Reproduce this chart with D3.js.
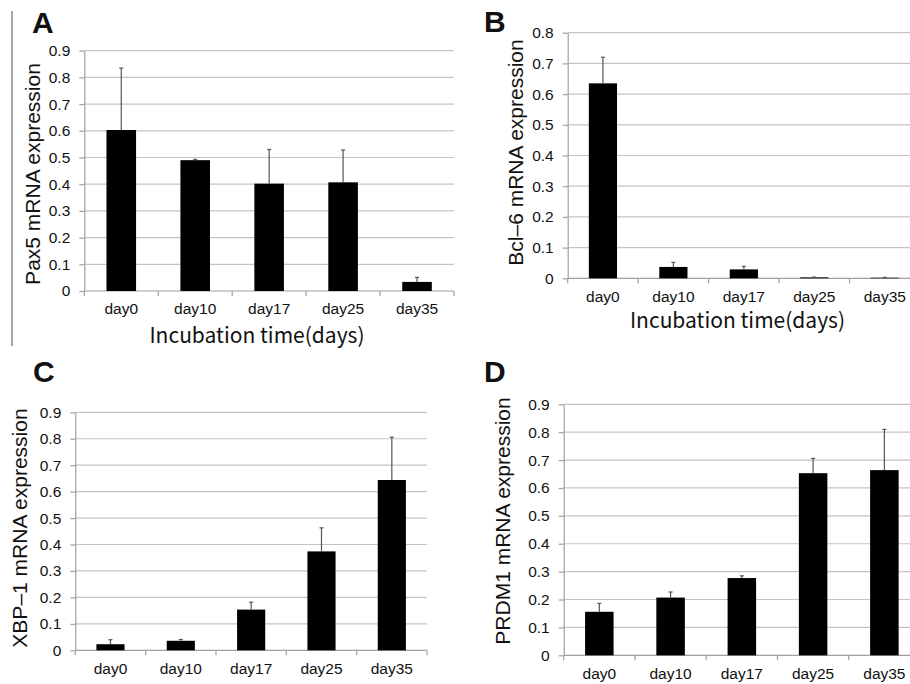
<!DOCTYPE html>
<html>
<head>
  <meta charset="utf-8">
  <title>mRNA expression</title>
  <script src="https://d3js.org/d3.v7.min.js"></script>
  <style>
    body { margin: 0; background: #fff; }
    text { font-family: "Liberation Sans", Arial, sans-serif; fill: #111; }
    .tit { font-family: "Noto Sans CJK JP", "Liberation Sans", sans-serif; }
  </style>
</head>
<body>
<div id="vis"></div>
<script>
// valores
var days = ["day0", "day10", "day17", "day25", "day35"];

var pax5    = [0.603, 0.490, 0.402, 0.407, 0.034];
var pax5Err = [0.232, 0.003, 0.128, 0.121, 0.017];

var bcl6    = [0.635, 0.037, 0.029, 0.003, 0.002];
var bcl6Err = [0.085, 0.015, 0.010, 0.001, 0.001];

var xbp1    = [0.023, 0.036, 0.154, 0.374, 0.644];
var xbp1Err = [0.017, 0.005, 0.028, 0.089, 0.162];

var prdm1    = [0.156, 0.207, 0.277, 0.653, 0.664];
var prdm1Err = [0.030, 0.020, 0.008, 0.053, 0.146];

var ticks09 = [0, 0.1, 0.2, 0.3, 0.4, 0.5, 0.6, 0.7, 0.8, 0.9];
var ticks08 = [0, 0.1, 0.2, 0.3, 0.4, 0.5, 0.6, 0.7, 0.8];

var svg = d3.select("#vis").append("svg")
  .attr("width", 910)
  .attr("height", 684);

// linea vertical a la izquierda del panel A
svg.append("line")
  .attr("x1", 12).attr("x2", 12)
  .attr("y1", 11).attr("y2", 346)
  .attr("stroke", "#8a8a8a").attr("stroke-width", 1.5);

var panels = [
  {letter: "A", lx: 32, ly: 33, vals: pax5, err: pax5Err, ticks: ticks09,
   x0: 84.3, x1: 454, top: 50.7, bot: 291, ylab: "Pax5 mRNA expression", yx: 40, yc: 174,
   pad: 12.3, xtit: true, tx: 257, ty: 343},
  {letter: "B", lx: 484, ly: 32, vals: bcl6, err: bcl6Err, ticks: ticks08,
   x0: 567.7, x1: 920, top: 32.7, bot: 278.3, ylab: "Bcl\u20136 mRNA expression", yx: 523, yc: 152.5,
   pad: 13, xtit: true, tx: 737.5, ty: 328},
  {letter: "C", lx: 33, ly: 382, vals: xbp1, err: xbp1Err, ticks: ticks09,
   x0: 75.3, x1: 427, top: 412.3, bot: 650.3, ylab: "XBP\u20131 mRNA expression", yx: 26.7, yc: 528,
   pad: 13, xtit: false},
  {letter: "D", lx: 484, ly: 382, vals: prdm1, err: prdm1Err, ticks: ticks09,
   x0: 563.7, x1: 920, top: 404.3, bot: 655.3, ylab: "PRDM1 mRNA expression", yx: 510, yc: 521,
   pad: 13, xtit: false}
];

panels.forEach(function(p) {
  var g = svg.append("g");
  var maxv = p.ticks[p.ticks.length - 1];

  var x = d3.scaleBand().domain(days).range([p.x0, p.x1]).padding(0);
  var y = d3.scaleLinear().domain([0, maxv]).range([p.bot, p.top]);
  var bw = x.bandwidth() * 0.4;

  // rejilla
  g.selectAll(".grid").data(p.ticks.slice(1)).enter().append("line")
    .attr("x1", p.x0).attr("x2", p.x1)
    .attr("y1", function(d) { return y(d); })
    .attr("y2", function(d) { return y(d); })
    .attr("stroke", "#c4c4c4").attr("stroke-width", 1.2);

  // eje y
  var ay = g.append("g")
    .attr("transform", "translate(" + p.x0 + ",0)")
    .call(d3.axisLeft(y).tickValues(p.ticks).tickSize(5).tickSizeOuter(0).tickPadding(9)
      .tickFormat(function(d) { return d === 0 ? "0" : d3.format(".1f")(d); }));
  ay.select(".domain").attr("stroke", "#a0a0a0").attr("stroke-width", 1.2);
  ay.selectAll(".tick line").attr("stroke", "#a0a0a0").attr("stroke-width", 1.2);
  ay.selectAll(".tick text").style("font-size", "15.5px").style("font-family", "Liberation Sans").attr("fill", "#111");

  // eje x
  var ax = g.append("g")
    .attr("transform", "translate(0," + p.bot + ")")
    .call(d3.axisBottom(x).tickSize(0).tickPadding(p.pad));
  ax.select(".domain").remove();
  ax.selectAll(".tick text").style("font-size", "15.5px").style("font-family", "Liberation Sans").attr("fill", "#111");

  g.append("line")
    .attr("x1", p.x0).attr("x2", p.x1)
    .attr("y1", p.bot).attr("y2", p.bot)
    .attr("stroke", "#a0a0a0").attr("stroke-width", 1.2);

  var bounds = days.map(function(d) { return x(d); }).concat([p.x1]);
  g.selectAll(".xt").data(bounds).enter().append("line")
    .attr("x1", function(d) { return d; }).attr("x2", function(d) { return d; })
    .attr("y1", p.bot).attr("y2", p.bot + 5)
    .attr("stroke", "#a0a0a0").attr("stroke-width", 1.2);

  // barras
  g.selectAll(".bar").data(p.vals).enter().append("rect")
    .attr("x", function(d, i) { return x(days[i]) + x.bandwidth() / 2 - bw / 2; })
    .attr("y", function(d) { return y(d); })
    .attr("width", bw)
    .attr("height", function(d) { return p.bot - y(d); })
    .attr("fill", "#000");

  // barras de error (solo hacia arriba)
  g.selectAll(".err").data(p.vals).enter().append("line")
    .attr("x1", function(d, i) { return x(days[i]) + x.bandwidth() / 2; })
    .attr("x2", function(d, i) { return x(days[i]) + x.bandwidth() / 2; })
    .attr("y1", function(d) { return y(d); })
    .attr("y2", function(d, i) { return y(d + p.err[i]); })
    .attr("stroke", "#555").attr("stroke-width", 1.2);

  g.selectAll(".cap").data(p.vals).enter().append("line")
    .attr("x1", function(d, i) { return x(days[i]) + x.bandwidth() / 2 - 2; })
    .attr("x2", function(d, i) { return x(days[i]) + x.bandwidth() / 2 + 2; })
    .attr("y1", function(d, i) { return y(d + p.err[i]); })
    .attr("y2", function(d, i) { return y(d + p.err[i]); })
    .attr("stroke", "#555").attr("stroke-width", 1.2);

  // titulo eje y
  g.append("text")
    .attr("transform", "translate(" + p.yx + "," + p.yc + ") rotate(-90)")
    .attr("text-anchor", "middle")
    .style("font-size", "21px")
    .text(p.ylab);

  if (p.xtit) {
    g.append("text")
      .attr("class", "tit")
      .attr("x", p.tx).attr("y", p.ty)
      .attr("text-anchor", "middle")
      .style("font-size", "21px")
      .text("Incubation time(days)");
  }

  // letra del panel
  g.append("text")
    .attr("x", p.lx).attr("y", p.ly)
    .style("font-size", "30px").style("font-weight", "bold")
    .attr("fill", "#000")
    .text(p.letter);
});
</script>
</body>
</html>
